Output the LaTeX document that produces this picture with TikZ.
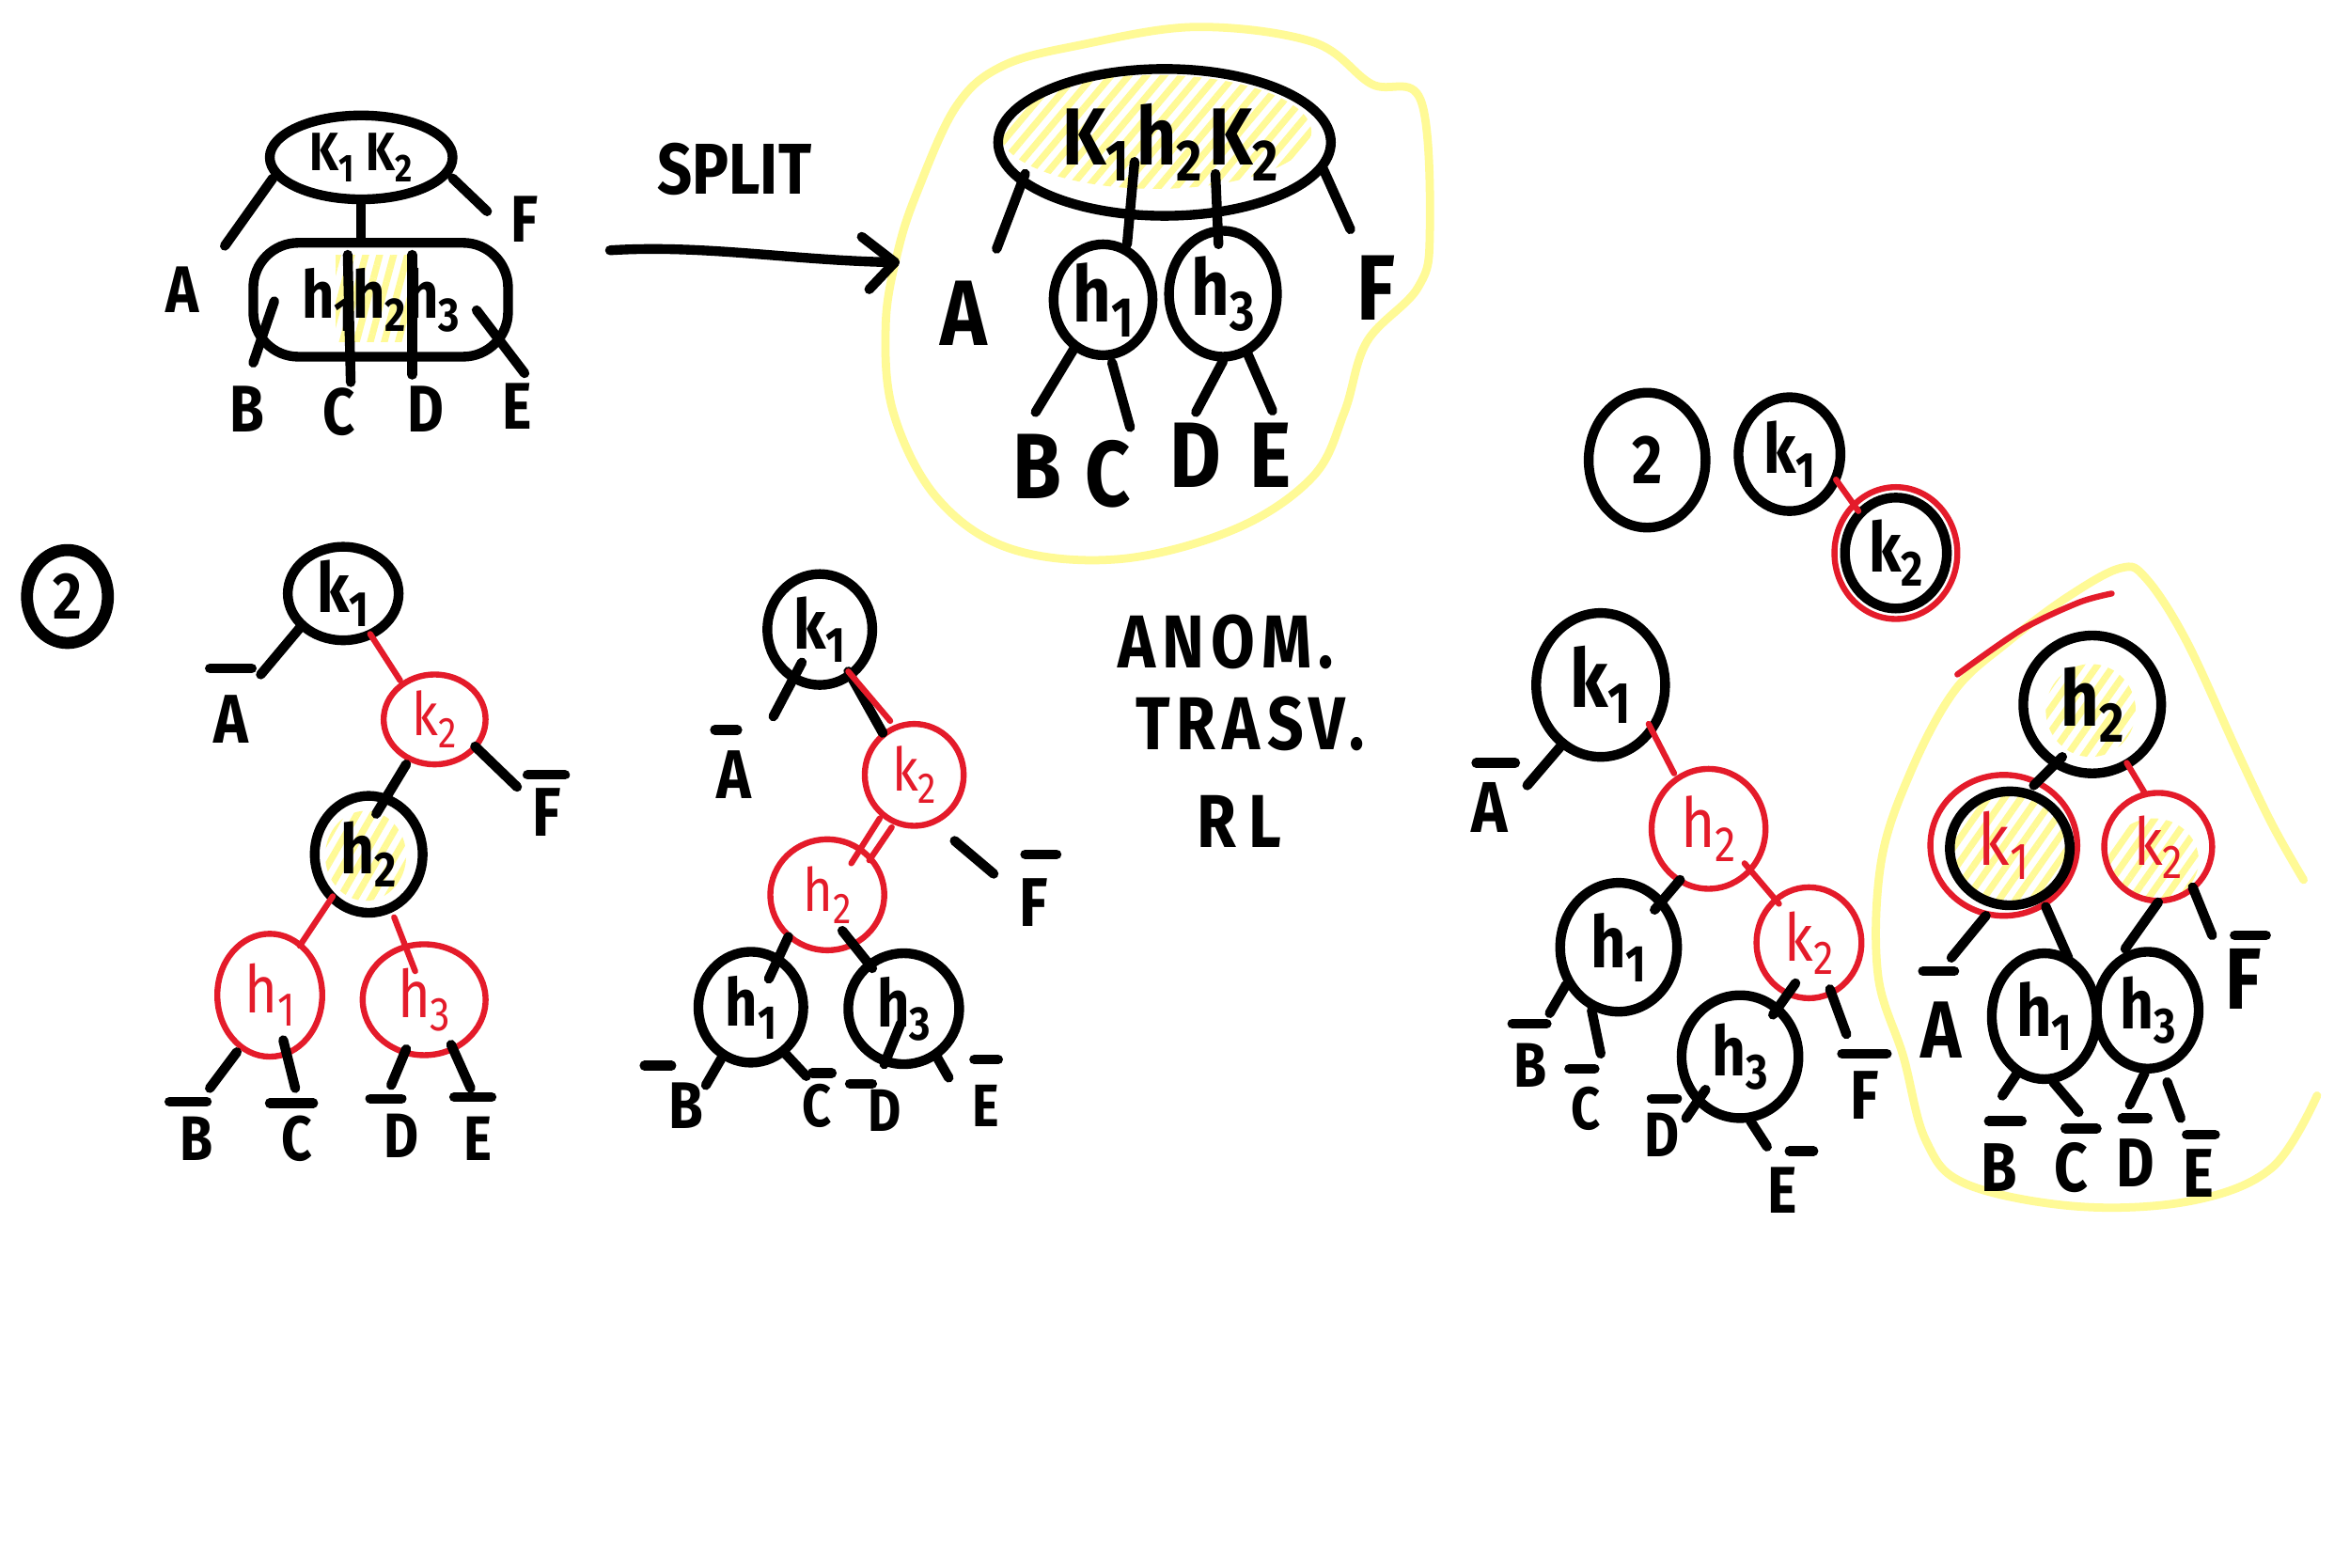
\documentclass[tikz,border=0pt]{standalone}
\usepackage{graphicx}
\usepackage{fontspec}
\newfontfamily\hand[FakeStretch=0.85]{Fira Sans}
\newfontfamily\handsp[FakeStretch=0.85,LetterSpace=9]{Fira Sans}
\usetikzlibrary{shapes.geometric,calc,patterns.meta}
\definecolor{hred}{RGB}{228,27,42}
\definecolor{hyel}{RGB}{255,250,150}
\newcommand\ksub[1]{\raisebox{-0.2em}{\scalebox{0.72}{#1}}}
\newcommand\fs[1]{\fontsize{#1}{#1}\selectfont}
\newcommand\linkto[5][blk]{\draw[#1] ([shift={#3}]#2.center) -- ([shift={#5}]#4.center);}
\newcommand\lbar[4]{\draw[blk] ([shift={(#2,#4)}]#1.center) -- ([shift={(#3,#4)}]#1.center);}
\tikzset{
 blk/.style={line width=6.5pt, line cap=round, line join=round, draw=black},
 redl/.style={line width=4pt, line cap=round, line join=round, draw=hred},
 yel/.style={line width=5.5pt, line cap=round, line join=round, draw=hyel},
 nd/.style={ellipse, draw=black, line width=6.5pt, inner sep=0pt, text=black},
 rnd/.style={ellipse, draw=hred, line width=4pt, inner sep=0pt, text=hred},
 sz/.style 2 args={minimum width=#1pt, minimum height=#2pt},
 ft/.style={font=\hand\bfseries\fs{#1}},
 ftr/.style={font=\hand\fs{#1}},
 lbl/.style={inner sep=0pt, text=black, font=\hand\bfseries\fs{#1}},
 note/.style={inner sep=0pt, text=black, font=\handsp\bfseries\fs{#1}},
 hatch/.style={pattern={Lines[angle=#1,distance=9pt,line width=4.5pt]}, pattern color=hyel},
}
\begin{document}
\begin{tikzpicture}[x=1pt,y=-1pt]
\useasboundingbox (0,0) rectangle (1568,1046);
\fill[white] (0,0) rectangle (1568,1046);

% ---------- yellow highlights ----------
\draw[yel] plot[smooth cycle, tension=0.6] coordinates {(948,67) (954,156) (946,192) (912,228) (897,275) (876,318) (824,353) (747,373) (674,366) (625,332) (596,275) (591,216) (599,168) (612,128) (638,71) (669,44) (721,30) (798,18) (876,28) (915,56)};
\draw[yel] plot[smooth, tension=0.6] coordinates {(1537,587) (1516,550) (1493,502) (1459,428) (1432,386) (1415,379) (1380,398) (1340,428) (1304,461) (1274,517) (1255,576) (1253,650) (1270,705) (1285,761) (1312,790) (1387,805) (1463,801) (1516,779) (1546,731)};
\fill[hatch=75] (224,170) rectangle (272,228);
\fill[hatch=50] (771,88) ellipse [x radius=104, y radius=38];
\fill[hatch=60] (244,571) ellipse [x radius=27, y radius=30];
\fill[hatch=55] (1395,474) ellipse [x radius=30, y radius=31];
\fill[hatch=55] (1340,566) ellipse [x radius=38, y radius=36];
\fill[hatch=55] (1437,574) ellipse [x radius=30, y radius=28];
\draw[redl] plot[smooth] coordinates {(1306,450) (1349,420) (1387,402) (1409,396)};

% ---------- top left: 2-3-4 node ----------
\node[nd, sz={122}{56}, ft=36] (tl_top) at (241,105) {K\ksub1\hspace{8pt}K\ksub2};
\node[rectangle, rounded corners=30pt, draw, line width=6.5pt, sz={170}{76}, inner sep=0pt, ft=44] (tl_box) at (254,200) {h\ksub1h\ksub2h\ksub3};
\node[lbl=44] (tl_A) at (122,193) {A};
\node[lbl=44] (tl_F) at (350,146) {F};
\node[lbl=44] (tl_B) at (165,273) {B};
\node[lbl=44] (tl_C) at (226,275) {C};
\node[lbl=44] (tl_D) at (284,273) {D};
\node[lbl=44] (tl_E) at (345,271) {E};
\draw[blk] (tl_top.south) -- (tl_top.south |- tl_box.north);
\linkto{tl_top}{(-59,14)}{tl_A}{(28,-29)}
\linkto{tl_top}{(61,14)}{tl_F}{(-25,-5)}
\linkto{tl_box}{(-22,-30)}{tl_C}{(8,-20)}
\linkto{tl_box}{(21,-30)}{tl_D}{(-9,-23)}
\linkto{tl_box}{(-71,1)}{tl_B}{(4,-31)}
\linkto{tl_box}{(64,7)}{tl_E}{(5,-22)}

% ---------- split arrow ----------
\node[lbl=48] (split) at (490,113) {SPLIT};
\coordinate (arrS) at (407,167);
\coordinate (arrE) at (597,175);
\draw[blk] (arrS) .. controls (470,163) and (530,174) .. (arrE);
\draw[blk] ([shift={(-22,-17)}]arrE) -- (arrE) -- ([shift={(-17,18)}]arrE);

% ---------- top right ----------
\node[nd, sz={222}{98}, ft=54, inner xsep=-40pt] (tr_top) at (777,95) {\hspace{8pt}K\ksub1\hspace{5pt}h\ksub2\hspace{5pt}K\ksub2};
\node[nd, sz={66}{74}, ft=52] (tr_h1) at (736,200) {h\ksub1};
\node[nd, sz={72}{84}, ft=52] (tr_h3) at (816,196) {h\ksub3};
\node[lbl=62] (tr_A) at (643,209) {A};
\node[lbl=62] (tr_F) at (918,192) {F};
\node[lbl=62] (tr_B) at (692,311) {B};
\node[lbl=62] (tr_C) at (739,316) {C};
\node[lbl=62] (tr_D) at (798,304) {D};
\node[lbl=62] (tr_E) at (848,304) {E};
\linkto{tr_top}{(-93,21)}{tr_A}{(22,-43)}
\linkto{tr_top}{(106,18)}{tr_F}{(-17,-39)}
\linkto{tr_top}{(-20,13)}{tr_h1}{(16,-37)}
\linkto{tr_top}{(34,21)}{tr_h3}{(-3,-33)}
\linkto{tr_h1}{(-19,32)}{tr_B}{(-1,-36)}
\linkto{tr_h1}{(6,42)}{tr_C}{(15,-31)}
\linkto{tr_h3}{(0,45)}{tr_D}{(0,-29)}
\linkto{tr_h3}{(16,39)}{tr_E}{(1,-30)}

% ---------- bottom left tree ----------
\node[nd, line width=8pt, sz={54}{62}, ft=44] (bl_two) at (45,398) {2};
\node[nd, sz={74}{62}, ft=46] (bl_k1) at (229,396) {k\ksub1};
\node[rnd, sz={68}{60}, ftr=40] (bl_k2) at (290,480) {k\ksub2};
\node[nd, sz={72}{78}, ft=46] (bl_h2) at (246,570) {h\ksub2};
\node[rnd, sz={70}{82}, ftr=44] (bl_h1) at (180,664) {h\ksub1};
\node[rnd, sz={82}{74}, ftr=44] (bl_h3) at (283,667) {h\ksub3};
\node[lbl=46] (bl_A) at (154,480) {A};
\node[lbl=46] (bl_F) at (365,542) {F};
\node[lbl=42] (bl_B) at (131,760) {B};
\node[lbl=42] (bl_C) at (198,760) {C};
\node[lbl=42] (bl_D) at (268,758) {D};
\node[lbl=42] (bl_E) at (319,760) {E};
\lbar{bl_A}{-14}{14}{-34}
\lbar{bl_F}{-13}{12}{-25}
\lbar{bl_B}{-18}{7}{-25}
\lbar{bl_C}{-18}{11}{-24}
\lbar{bl_D}{-21}{0}{-25}
\lbar{bl_E}{-16}{9}{-28}
\linkto{bl_k1}{(-29,23)}{bl_A}{(20,-30)}
\linkto[redl]{bl_k1}{(18,27)}{bl_k2}{(-23,-26)}
\linkto{bl_k2}{(27,18)}{bl_F}{(-20,-17)}
\linkto{bl_k2}{(-19,30)}{bl_h2}{(5,-27)}
\linkto[redl]{bl_h2}{(-24,28)}{bl_h1}{(20,-33)}
\linkto[redl]{bl_h2}{(17,42)}{bl_h3}{(-6,-19)}
\linkto{bl_h1}{(-22,38)}{bl_B}{(9,-34)}
\linkto{bl_h1}{(9,30)}{bl_C}{(-1,-34)}
\linkto{bl_h3}{(-12,33)}{bl_D}{(-7,-34)}
\linkto{bl_h3}{(18,30)}{bl_E}{(-5,-34)}

% ---------- middle tree ----------
\node[nd, sz={70}{74}, ft=46] (mt_k1) at (547,420) {k\ksub1};
\node[rnd, sz={66}{68}, ftr=40] (mt_k2) at (610,517) {k\ksub2};
\node[rnd, sz={76}{74}, ftr=40] (mt_h2) at (552,597) {h\ksub2};
\node[nd, sz={70}{74}, ft=44] (mt_h1) at (501,672) {h\ksub1};
\node[nd, sz={74}{74}, ft=44] (mt_h3) at (603,673) {h\ksub3};
\node[lbl=46] (mt_A) at (490,517) {A};
\node[lbl=46] (mt_F) at (690,602) {F};
\node[lbl=44] (mt_B) at (458,738) {B};
\node[lbl=40] (mt_C) at (545,738) {C};
\node[lbl=40] (mt_D) at (590,741) {D};
\node[lbl=40] (mt_E) at (658,738) {E};
\lbar{mt_A}{-13}{2}{-30}
\lbar{mt_F}{-6}{15}{-32}
\lbar{mt_B}{-28}{-10}{-27}
\lbar{mt_C}{-3}{10}{-22}
\lbar{mt_D}{-23}{-8}{-18}
\lbar{mt_E}{-8}{8}{-31}
\linkto{mt_k1}{(-12,22)}{mt_A}{(26,-39)}
\linkto{mt_k1}{(19,28)}{mt_k2}{(-21,-28)}
\linkto[redl]{mt_k1}{(19,28)}{mt_k2}{(-16,-36)}
\linkto[redl]{mt_k2}{(-23,29)}{mt_h2}{(16,-21)}
\linkto[redl]{mt_k2}{(-15,35)}{mt_h2}{(28,-23)}
\linkto{mt_k2}{(27,44)}{mt_F}{(-27,-19)}
\linkto{mt_h2}{(-26,28)}{mt_h1}{(12,-19)}
\linkto{mt_h2}{(10,24)}{mt_h3}{(-21,-27)}
\linkto{mt_h1}{(-19,33)}{mt_B}{(13,-14)}
\linkto{mt_h1}{(23,31)}{mt_C}{(-7,-20)}
\linkto{mt_h3}{(-2,10)}{mt_D}{(0,-31)}
\linkto{mt_h3}{(22,32)}{mt_E}{(-25,-19)}
\node[note=50] (anom) at (818,428) {ANOM.};
\node[note=50] (trasv) at (834,483) {TRASV.};
\node[note=50] (rl) at (827,548) {R\hspace{8pt}L};

% ---------- right group ----------
\node[nd, sz={78}{90}, ft=46] (r_two) at (1099,307) {2};
\node[nd, sz={68}{76}, ft=46] (r_k1s) at (1194,303) {k\ksub1};
\node[nd, sz={68}{74}, ft=46] (r_k2s) at (1265,369) {k\ksub2};
\draw[redl] (r_k2s.center) ellipse [x radius=41, y radius=44];
\linkto[redl]{r_k1s}{(31,17)}{r_k2s}{(-25,-28)}

\node[nd, sz={86}{96}, ft=54] (r_k1) at (1068,457) {k\ksub1};
\node[rnd, sz={76}{80}, ftr=46] (r_h2) at (1140,553) {h\ksub2};
\node[nd, sz={78}{86}, ft=48] (r_h1) at (1080,632) {h\ksub1};
\node[rnd, sz={70}{74}, ftr=44] (r_k2) at (1207,629) {k\ksub2};
\node[nd, sz={78}{82}, ft=46] (r_h3) at (1161,705) {h\ksub3};
\node[lbl=48] (r_A) at (994,539) {A};
\node[lbl=42] (r_B) at (1021,711) {B};
\node[lbl=40] (r_C) at (1058,740) {C};
\node[lbl=42] (r_D) at (1109,757) {D};
\node[lbl=44] (r_E) at (1189,794) {E};
\node[lbl=46] (r_F) at (1244,731) {F};
\lbar{r_A}{-9}{17}{-30}
\lbar{r_B}{-12}{11}{-28}
\lbar{r_C}{-11}{6}{-27}
\lbar{r_D}{-7}{10}{-24}
\lbar{r_E}{5}{21}{-26}
\lbar{r_F}{-15}{15}{-28}
\linkto{r_k1}{(-25,39)}{r_A}{(25,-15)}
\linkto[redl]{r_k1}{(32,26)}{r_h2}{(-23,-37)}
\linkto{r_h2}{(-19,34)}{r_h1}{(24,-25)}
\linkto[redl]{r_h2}{(24,23)}{r_k2}{(-20,-26)}
\linkto{r_h1}{(-35,25)}{r_B}{(13,-35)}
\linkto{r_h1}{(-18,42)}{r_C}{(10,-37)}
\linkto{r_k2}{(-9,27)}{r_h3}{(22,-28)}
\linkto{r_k2}{(14,31)}{r_F}{(-12,-41)}
\linkto{r_h3}{(-23,22)}{r_D}{(16,-11)}
\linkto{r_h3}{(7,43)}{r_E}{(-10,-29)}

\node[nd, sz={92}{92}, ft=52] (rr_h2) at (1396,470) {h\ksub2};
\node[rnd, sz={98}{94}, ftr=48] (rr_k1) at (1337,564) {k\ksub1};
\draw[blk] ([shift={(4,2)}]rr_k1.center) ellipse [x radius=40, y radius=38];
\node[rnd, sz={72}{72}, ftr=44] (rr_k2) at (1440,565) {k\ksub2};
\node[nd, sz={70}{84}, ft=48] (rr_h1) at (1364,678) {h\ksub1};
\node[nd, sz={68}{78}, ft=46] (rr_h3) at (1433,674) {h\ksub3};
\node[lbl=54] (rr_A) at (1295,687) {A};
\node[lbl=58] (rr_F) at (1497,653) {F};
\node[lbl=46] (rr_B) at (1334,779) {B};
\node[lbl=46] (rr_C) at (1382,779) {C};
\node[lbl=46] (rr_D) at (1425,776) {D};
\node[lbl=46] (rr_E) at (1467,783) {E};
\lbar{rr_A}{-12}{9}{-39}
\lbar{rr_F}{-6}{15}{-29}
\lbar{rr_B}{-7}{15}{-31}
\lbar{rr_C}{-4}{17}{-26}
\lbar{rr_D}{-9}{8}{-30}
\lbar{rr_E}{-8}{11}{-26}
\linkto{rr_h2}{(-20,35)}{rr_k1}{(20,-40)}
\linkto[redl]{rr_h2}{(23,39)}{rr_k2}{(-9,-36)}
\linkto{rr_k1}{(-12,47)}{rr_A}{(7,-48)}
\linkto{rr_k1}{(28,41)}{rr_h1}{(16,-39)}
\linkto{rr_k2}{(0,37)}{rr_h3}{(-15,-41)}
\linkto{rr_k2}{(23,27)}{rr_F}{(-21,-29)}
\linkto{rr_h1}{(-18,38)}{rr_B}{(2,-48)}
\linkto{rr_h1}{(6,44)}{rr_C}{(5,-37)}
\linkto{rr_h3}{(-2,42)}{rr_D}{(-4,-39)}
\linkto{rr_h3}{(13,48)}{rr_E}{(-12,-37)}
\end{tikzpicture}
\end{document}
